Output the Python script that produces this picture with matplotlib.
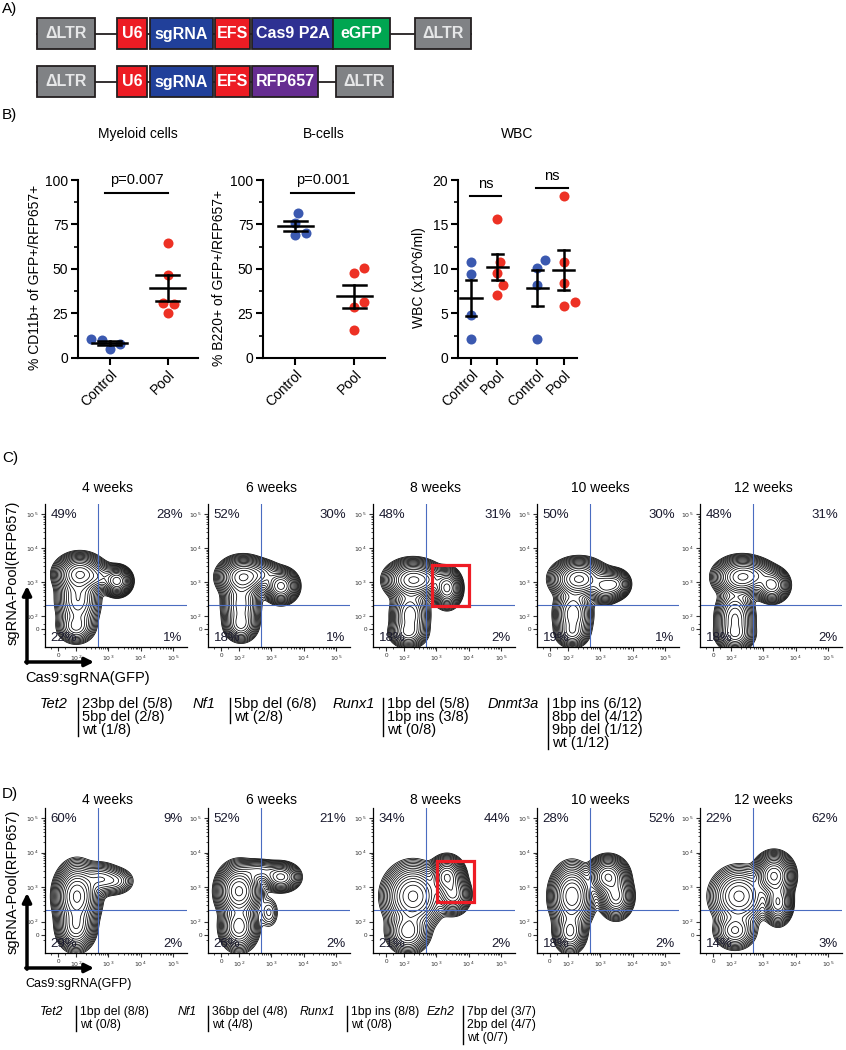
import matplotlib
matplotlib.use('Agg')
import matplotlib.pyplot as plt
import numpy as np
from matplotlib.patches import Rectangle

plt.rcParams['font.family'] = ['Liberation Sans', 'DejaVu Sans']

# ---------------- data ----------------
# A) vector constructs
box_colors = {'ΔLTR': '#808285', 'U6': '#ed1c24', 'sgRNA': '#21409a', 'EFS': '#ed1c24',
              'Cas9 P2A': '#2e3192', 'eGFP': '#00a651', 'RFP657': '#662d91'}
vec1_parts = ['ΔLTR', 'U6', 'sgRNA', 'EFS', 'Cas9 P2A', 'eGFP', 'ΔLTR']
vec1_widths = [58, 30, 63, 35, 81, 57, 56]
vec1_gaps = [0, 22, 3, 2, 2, 0, 25]
vec2_parts = ['ΔLTR', 'U6', 'sgRNA', 'EFS', 'RFP657', 'ΔLTR']
vec2_widths = [58, 30, 63, 35, 66, 57]
vec2_gaps = [0, 22, 3, 2, 2, 18]

# B) dot plots
group_labels = ['Control', 'Pool']
myeloid_control = [9.9, 5.3, 8.1, 10.9]
myeloid_pool = [64.4, 46.5, 25.0, 30.2, 31.0]
bcell_control = [75.6, 81.6, 69.0, 70.4]
bcell_pool = [47.5, 50.3, 31.5, 28.7, 15.6]
wbc_labels = ['Control', 'Pool', 'Control', 'Pool']
wbc_control1 = [9.4, 10.8, 4.8, 2.1]
wbc_pool1 = [15.6, 10.8, 9.6, 8.2, 7.1]
wbc_control2 = [10.1, 11.0, 8.2, 2.1]
wbc_pool2 = [18.2, 10.8, 8.4, 5.8, 6.3]
p_myeloid = 'p=0.007'
p_bcell = 'p=0.001'
p_wbc = ['ns', 'ns']

# C) / D) flow cytometry
weeks = ['4 weeks', '6 weeks', '8 weeks', '10 weeks', '12 weeks']
# quadrant %: upper-left, upper-right, lower-left, lower-right
c_quadrants = [(49, 28, 22, 1), (52, 30, 18, 1), (48, 31, 18, 2), (50, 30, 19, 1), (48, 31, 18, 2)]
d_quadrants = [(60, 9, 29, 2), (52, 21, 26, 2), (34, 44, 21, 2), (28, 52, 18, 2), (22, 62, 14, 3)]
# populations in biexponential display units (GFP, RFP657): centre, spread, weight
c_populations = [
    [(22, 55, 10, 8, 1.0), (20, 30, 9, 14, 0.45), (18, 2, 8, 7, 0.25), (59, 48, 6, 6, 0.9), (42, 52, 8, 6, 0.25)],
    [(22, 52, 10, 8, 1.0), (20, 25, 8, 13, 0.4), (20, 4, 7, 7, 0.3), (60, 43, 7, 7, 0.85), (40, 55, 9, 6, 0.25)],
    [(27, 49, 11, 8, 1.0), (24, 14, 8, 12, 0.4), (22, -4, 8, 6, 0.25), (61, 41, 6, 8, 0.8), (43, 50, 7, 6, 0.2)],
    [(29, 50, 11, 8, 1.0), (23, 15, 8, 12, 0.4), (22, -4, 7, 6, 0.2), (55, 43, 7, 7, 0.55), (66, 45, 6, 6, 0.4)],
    [(29, 52, 11, 8, 1.0), (22, 10, 8, 13, 0.45), (22, -6, 8, 6, 0.25), (59, 44, 7, 7, 0.65), (45, 55, 8, 6, 0.2)],
]
d_populations = [
    [(19, 38, 9, 13, 1.0), (18, 8, 8, 10, 0.5), (42, 55, 9, 7, 0.22), (58, 53, 8, 6, 0.12)],
    [(18, 43, 9, 11, 1.0), (18, 8, 8, 10, 0.5), (60, 57, 8, 6, 0.45), (38, 63, 10, 5, 0.18), (48, 22, 5, 8, 0.05)],
    [(27, 38, 12, 13, 0.8), (22, 3, 9, 9, 0.4), (61, 57, 7, 8, 1.0), (67, 40, 7, 8, 0.6)],
    [(22, 38, 9, 13, 0.7), (20, 3, 7, 9, 0.35), (58, 57, 8, 8, 1.0), (66, 38, 7, 9, 0.6)],
    [(26, 38, 12, 12, 0.45), (22, 4, 9, 8, 0.25), (61, 58, 8, 9, 1.0), (65, 32, 6, 9, 0.55)],
]
gate_gfp = 480
gate_rfp = 210
c_box = (740, 10200, 197, 3160)   # GFP lo/hi, RFP lo/hi
d_box = (1050, 14700, 362, 5800)

c_mutations = [('Tet2', ['23bp del (5/8)', '5bp del (2/8)', 'wt (1/8)']),
               ('Nf1', ['5bp del (6/8)', 'wt (2/8)']),
               ('Runx1', ['1bp del (5/8)', '1bp ins (3/8)', 'wt (0/8)']),
               ('Dnmt3a', ['1bp ins (6/12)', '8bp del (4/12)', '9bp del (1/12)', 'wt (1/12)'])]
d_mutations = [('Tet2', ['1bp del (8/8)', 'wt (0/8)']),
               ('Nf1', ['36bp del (4/8)', 'wt (4/8)']),
               ('Runx1', ['1bp ins (8/8)', 'wt (0/8)']),
               ('Ezh2', ['7bp del (3/7)', '2bp del (4/7)', 'wt (0/7)'])]

# ---------------- figure ----------------
W, H = 846, 1050
fig = plt.figure(figsize=(W / 100, H / 100), dpi=100)


def rect(l, t, r, b):
    return [l / W, 1 - b / H, (r - l) / W, (b - t) / H]


ov = fig.add_axes([0, 0, 1, 1])
ov.set_xlim(0, W)
ov.set_ylim(H, 0)
ov.axis('off')

for lab, y in [('A)', 9), ('B)', 115), ('C)', 458), ('D)', 794)]:
    ov.text(2, y, lab, fontsize=11, ha='left', va='center')


# ---- A) constructs ----
def draw_vector(parts, widths, gaps, top, x0=37, h=31):
    widths = np.array(widths)
    xs = x0 + np.cumsum(gaps) + np.concatenate([[0], np.cumsum(widths)[:-1]])
    ov.plot([xs[0], xs[-1] + widths[-1]], [top + h / 2] * 2, color='#231f20', lw=1.3, zorder=1)
    for xi, w, p in zip(xs, widths, parts):
        ov.add_patch(Rectangle((xi, top), w, h, fc=box_colors[p], ec='#231f20', lw=1.3, zorder=2))
        ov.text(xi + w / 2, top + h / 2 + 0.5, p, color='#e6e7e8' if p == 'ΔLTR' else 'white',
                fontsize=11.5, fontweight='bold', ha='center', va='center', zorder=3)


draw_vector(vec1_parts, vec1_widths, vec1_gaps, 18)
draw_vector(vec2_parts, vec2_widths, vec2_gaps, 66)

# ---- B) dot plots ----
BLUE = '#3b59b0'
RED = '#ed3124'


def swarm(values, ppu_y, ppu_x, diam=11.0):
    values = np.asarray(values, float)
    offs = np.zeros(len(values))
    placed = []
    for i in np.argsort(values):
        y = values[i] * ppu_y
        for step in range(0, 80):
            dx = (step + 1) // 2 * (1 if step % 2 else -1) if step else 0
            if all((dx - px) ** 2 + (y - py) ** 2 >= diam ** 2 for px, py in placed):
                break
        placed.append((dx, y))
        offs[i] = dx / ppu_x
    return offs


def finish_dots(ax, xs, groups, colors, ppu_y, ppu_x, mean_hw, cap_hw):
    for x, vals, c in zip(xs, groups, colors):
        vals = np.asarray(vals)
        ax.scatter(x + swarm(vals, ppu_y, ppu_x), vals, s=52, color=c, zorder=2, clip_on=False,
                   linewidths=0)
        m = vals.mean()
        se = vals.std(ddof=1) / np.sqrt(len(vals))
        ax.plot([x - mean_hw, x + mean_hw], [m, m], color='black', lw=1.8, zorder=3)
        ax.plot([x, x], [m - se, m + se], color='black', lw=1.8, zorder=3)
        for yy in (m - se, m + se):
            ax.plot([x - cap_hw, x + cap_hw], [yy, yy], color='black', lw=1.8, zorder=3)


def style_dots(ax, ylabel, yticks, minor):
    for s in ('top', 'right'):
        ax.spines[s].set_visible(False)
    for s in ('left', 'bottom'):
        ax.spines[s].set_linewidth(1.5)
    ax.set_yticks(yticks)
    ax.set_yticks(minor, minor=True)
    ax.tick_params(axis='both', which='major', length=5, width=1.5, labelsize=10, pad=2)
    ax.tick_params(axis='y', which='minor', length=3, width=1.2)
    ax.set_ylabel(ylabel, fontsize=10)
    ax.patch.set_alpha(0)


panels_b = [
    ((78, 180, 198, 358), 'Myeloid cells', '% CD11b+ of GFP+/RFP657+', myeloid_control, myeloid_pool, p_myeloid),
    ((263, 180, 385, 358), 'B-cells', '% B220+ of GFP+/RFP657+', bcell_control, bcell_pool, p_bcell),
]
for rp, title, ylab, ctrl, pool, ptxt in panels_b:
    ax = fig.add_axes(rect(*rp))
    ax.set_xlim(-0.55, 1.52)
    ax.set_ylim(0, 100)
    ppu_y = (rp[3] - rp[1]) / 100
    ppu_x = (rp[2] - rp[0]) / 2.07
    finish_dots(ax, [0, 1], [ctrl, pool], [BLUE, RED], ppu_y, ppu_x, 0.3, 0.2)
    style_dots(ax, ylab, [0, 25, 50, 75, 100], [12.5, 37.5, 62.5, 87.5])
    ax.set_xticks([0, 1])
    ax.set_xticklabels(group_labels, rotation=45, ha='right', rotation_mode='anchor')
    ax.yaxis.set_label_coords(-0.3, 0.45)
    ax.plot([-0.08, 1.0], [92.8, 92.8], color='black', lw=1.5, clip_on=False)
    ax.text(0.46, 100, ptxt, ha='center', va='center', fontsize=10.5, clip_on=False)
    ax.set_title(title, fontsize=10, pad=30)

ax = fig.add_axes(rect(458, 180, 577, 358))
ax.set_xlim(-0.49, 4.0)
ax.set_ylim(0, 20)
wbc_x = [0, 1, 2.5, 3.5]
finish_dots(ax, wbc_x, [wbc_control1, wbc_pool1, wbc_control2, wbc_pool2], [BLUE, RED, BLUE, RED],
            178 / 20, 119 / 4.49, 0.4, 0.2)
style_dots(ax, 'WBC (x10^6/ml)', [0, 5, 10, 15, 20], [2.5, 7.5, 12.5, 17.5])
ax.set_xticks(wbc_x)
ax.set_xticklabels(wbc_labels, rotation=45, ha='right', rotation_mode='anchor')
ax.yaxis.set_label_coords(-0.27, 0.45)
for (x0, x1, yb), t in zip([(-0.05, 1.15, 18.2), (2.45, 3.65, 19.1)], p_wbc):
    ax.plot([x0, x1], [yb, yb], color='black', lw=1.5, clip_on=False)
    ax.text((x0 + x1) / 2, yb + 1.35, t, ha='center', va='center', fontsize=10.5, clip_on=False)
ax.set_title('WBC', fontsize=10, pad=30)


# ---- C) / D) flow contour plots ----
def gfp_pos(v):
    v = np.asarray(v, float)
    return np.where(v < 100, 18 * v / 100, 18 + 32.3 * np.log10(np.maximum(v, 1) / 100))


def rfp_pos(v):
    v = np.asarray(v, float)
    return np.where(v < 100, 13 * v / 100, 13 + 34 * np.log10(np.maximum(v, 1) / 100))


decades = [0, 1e2, 1e3, 1e4, 1e5]
decade_labels = ['0', '$10^2$', '$10^3$', '$10^4$', '$10^5$']
minor_vals = [m * 10 ** k for k in (2, 3, 4) for m in range(2, 10)] + [-40, 40]
GATE = '#4a6cc0'
gx = np.linspace(-13, 129, 280)
gy = np.linspace(-18, 125, 280)
GX, GY = np.meshgrid(gx, gy)
contour_fracs = np.geomspace(0.012, 0.92, 17)


def flow_panel(left, top, bottom, pops, quads, title, title_gap, box=None):
    ax = fig.add_axes(rect(left, top, left + 142, bottom))
    ax.set_xlim(-13, 129)
    ax.set_ylim(-18, 125)
    dens = np.zeros_like(GX)
    for mx, my, sx, sy, w in pops:
        dens += w * np.exp(-0.5 * ((GX - mx) / sx) ** 2 - 0.5 * ((GY - my) / sy) ** 2)
    ax.contour(GX, GY, dens, levels=dens.max() * contour_fracs, colors='black', linewidths=0.55)
    xg = float(gfp_pos(gate_gfp))
    yg = float(rfp_pos(gate_rfp))
    ax.axvline(xg, color=GATE, lw=0.8)
    ax.axhline(yg, color=GATE, lw=0.8)
    if box is not None:
        bx0, bx1 = gfp_pos(box[0]), gfp_pos(box[1])
        by0, by1 = rfp_pos(box[2]), rfp_pos(box[3])
        ax.add_patch(Rectangle((bx0, by0), bx1 - bx0, by1 - by0, fill=False, ec='#ee1c25', lw=2.3, zorder=5))
    ul, ur, ll, lr = quads
    kw = dict(transform=ax.transAxes, fontsize=9.5, color='#1a1a2e', va='center')
    ax.text(0.04, 0.925, f'{ul}%', ha='left', **kw)
    ax.text(0.97, 0.925, f'{ur}%', ha='right', **kw)
    ax.text(0.04, 0.065, f'{ll}%', ha='left', **kw)
    ax.text(0.97, 0.065, f'{lr}%', ha='right', **kw)
    for s in ('top', 'right'):
        ax.spines[s].set_visible(False)
    for s in ('left', 'bottom'):
        ax.spines[s].set_linewidth(0.9)
    ax.set_xticks(gfp_pos(decades))
    ax.set_xticklabels(decade_labels)
    ax.set_yticks(rfp_pos(decades))
    ax.set_yticklabels(decade_labels)
    ax.set_xticks(gfp_pos(minor_vals), minor=True)
    ax.set_yticks(rfp_pos(minor_vals), minor=True)
    ax.tick_params(which='major', length=3, width=0.8, labelsize=4.5, pad=1.5, colors='#333333')
    ax.tick_params(which='minor', length=1.6, width=0.5)
    ax.patch.set_alpha(0)
    ov.text(left + 63, top - title_gap, title, ha='center', va='center', fontsize=10)
    return ax


flow_lefts = [45, 208, 373, 537, 700]
for i, left in enumerate(flow_lefts):
    flow_panel(left, 504, 647, c_populations[i], c_quadrants[i], weeks[i], 16, c_box if i == 2 else None)
    flow_panel(left, 808, 953, d_populations[i], d_quadrants[i], weeks[i], 8, d_box if i == 2 else None)


# axis arrows and labels
def axis_arrows(corner_y, tip_y, ylab_y, xlab_y, xlab_size):
    ap = dict(arrowstyle='-|>', lw=2.5, color='black', mutation_scale=13, shrinkA=0, shrinkB=0)
    ov.annotate('', xy=(27, tip_y), xytext=(27, corner_y + 1.2), arrowprops=ap)
    ov.annotate('', xy=(94, corner_y), xytext=(25.8, corner_y), arrowprops=ap)
    ov.text(13, ylab_y, 'sgRNA-Pool(RFP657)', rotation=90, ha='center', va='center', fontsize=10.5)
    ov.text(25, xlab_y, 'Cas9:sgRNA(GFP)', ha='left', va='center', fontsize=xlab_size)


axis_arrows(662, 586, 573, 678, 10.5)
axis_arrows(968, 893, 882, 984, 9)


# mutation annotations
def mutations(muts, gene_x, bar_x, y0, size, dy=13):
    for (gene, lines), gxx, bxx in zip(muts, gene_x, bar_x):
        ov.text(gxx, y0, gene, style='italic', ha='left', va='center', fontsize=size)
        for k, ln in enumerate(lines):
            ov.text(bxx + 4, y0 + k * dy, ln, ha='left', va='center', fontsize=size)
        ov.plot([bxx, bxx], [y0 - 6, y0 + (len(lines) - 1) * dy + 6], color='black', lw=1)


mutations(c_mutations, [40, 193, 333, 488], [78, 230, 383, 548], 704, 10.5)
mutations(d_mutations, [40, 178, 300, 427], [76, 208, 347, 463], 1012, 8.8)

fig.savefig('out.png', dpi=100)
